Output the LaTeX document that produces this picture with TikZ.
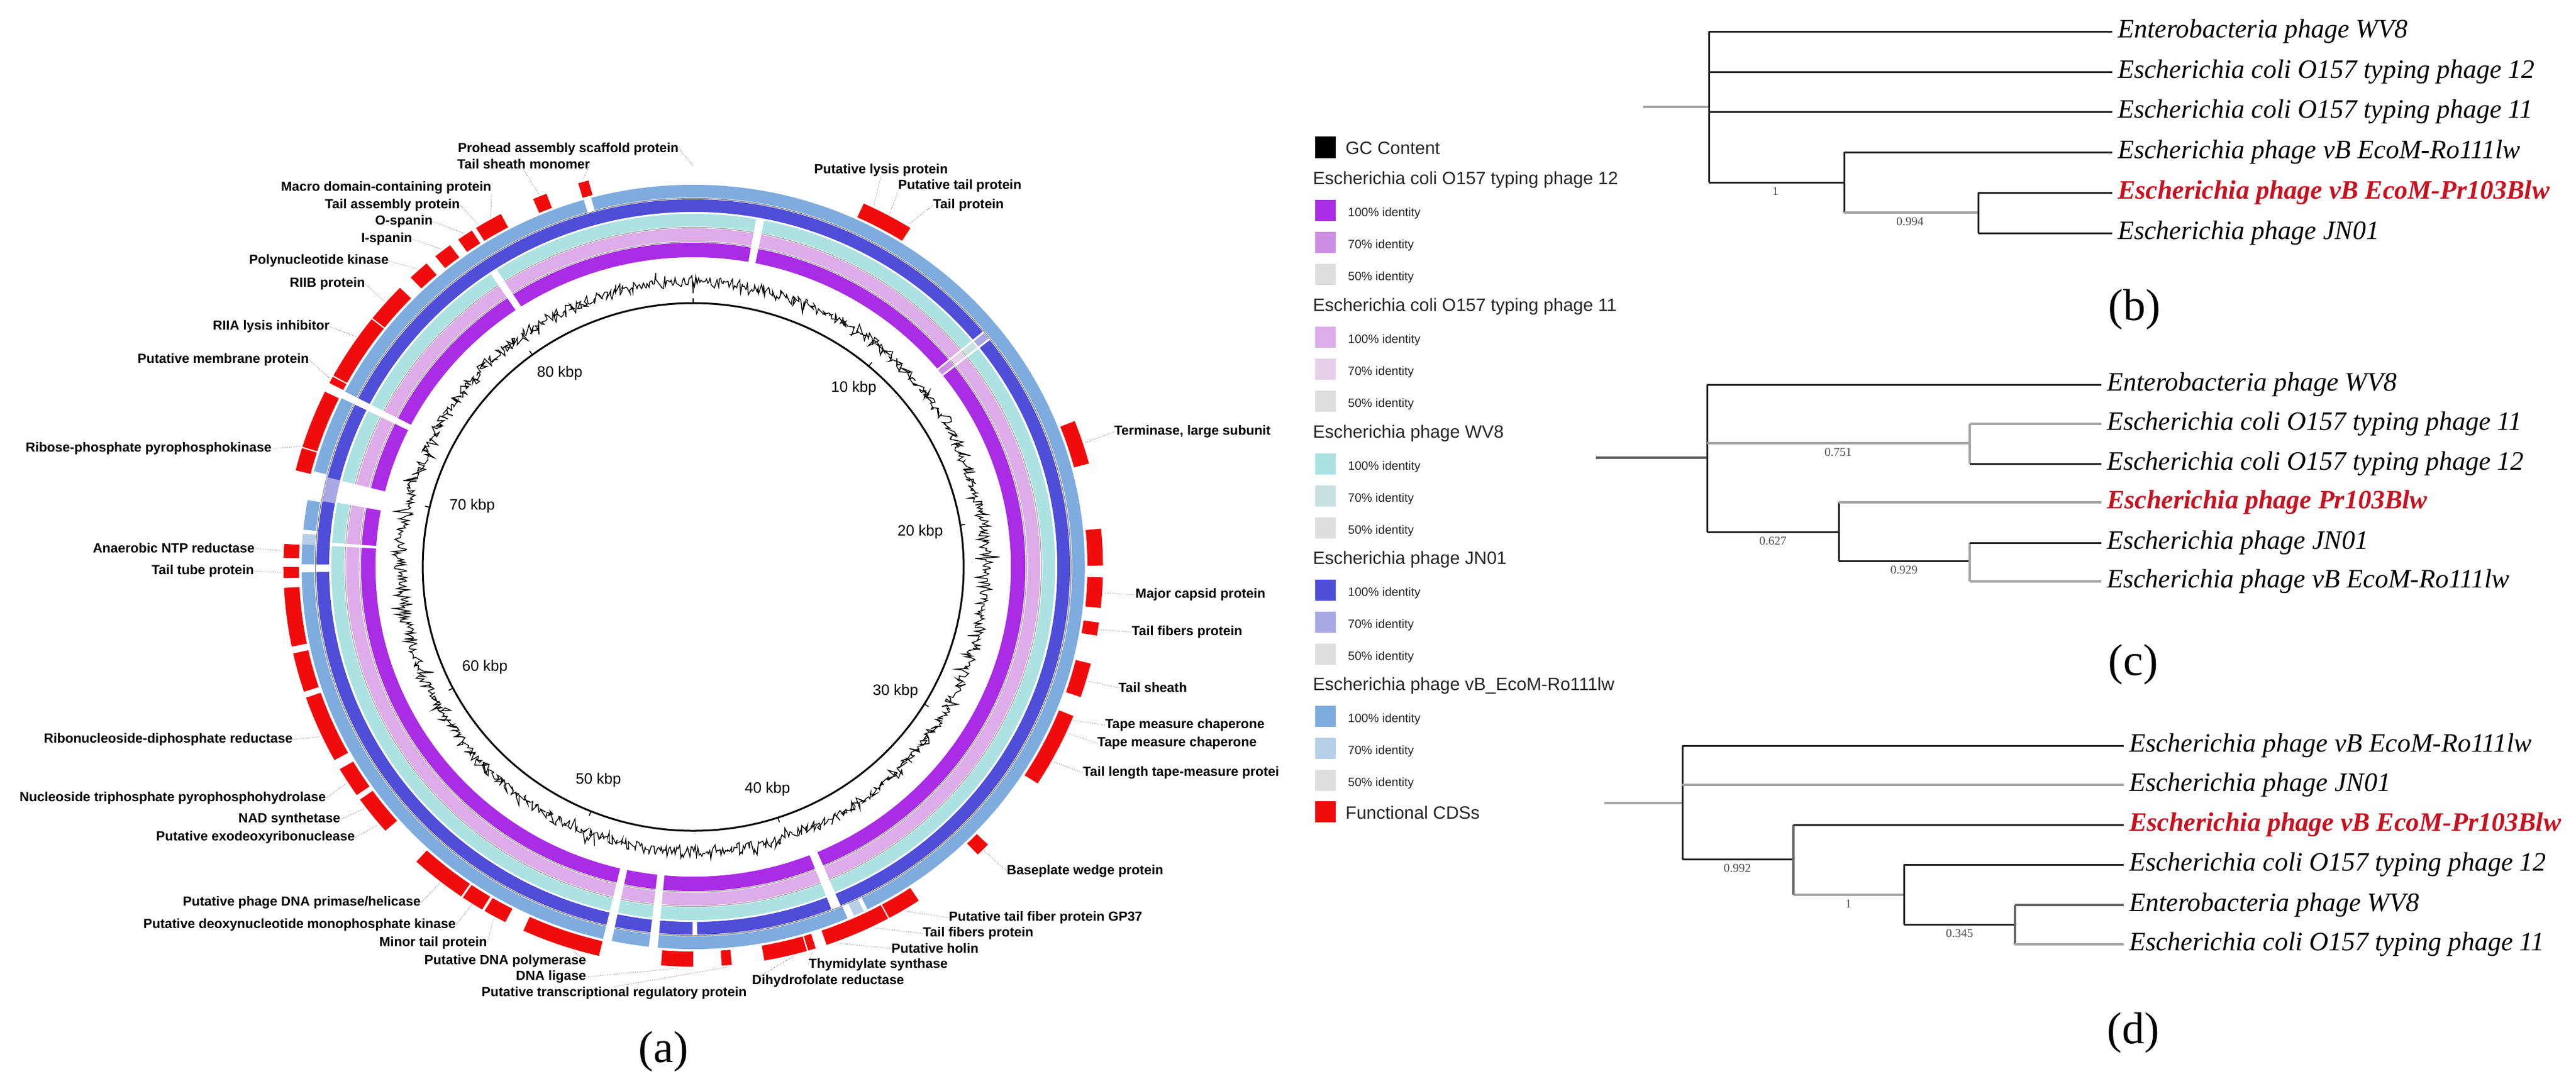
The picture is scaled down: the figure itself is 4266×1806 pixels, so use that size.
\documentclass[tikz,border=0pt]{standalone}
\usepackage{fontspec}
\setmainfont{Liberation Serif}
\newfontfamily\arialf{Liberation Sans}

\definecolor{pur1}{RGB}{170,44,228}
\definecolor{pur7}{RGB}{206,142,230}
\definecolor{pnk1}{RGB}{222,172,232}
\definecolor{pnk7}{RGB}{230,208,234}
\definecolor{tea1}{RGB}{172,226,226}
\definecolor{tea7}{RGB}{202,225,228}
\definecolor{blu1}{RGB}{78,78,216}
\definecolor{blu7}{RGB}{168,168,228}
\definecolor{lbl1}{RGB}{126,172,222}
\definecolor{lbl7}{RGB}{184,207,232}
\definecolor{id50}{RGB}{222,222,222}
\definecolor{cds}{RGB}{240,12,12}
\definecolor{treered}{RGB}{200,18,32}
\definecolor{treegray}{RGB}{165,165,165}
\definecolor{treedark}{RGB}{35,35,35}

\tikzset{
  maplbl/.style={font=\arialf\bfseries\fontsize{11}{13}\selectfont, inner sep=0pt, text=black},
  kbplbl/.style={font=\arialf\fontsize{12.5}{14}\selectfont, inner sep=0pt},
  lead/.style={draw=black!55, line width=0.45pt, densely dotted},
  lgh/.style={font=\arialf\fontsize{14.8}{17}\selectfont, inner sep=0pt, anchor=west, text=black!85},
  lgi/.style={font=\arialf\fontsize{10}{12}\selectfont, inner sep=0pt, anchor=west, text=black!85},
  leaf/.style={font=\itshape\fontsize{22}{26}\selectfont, inner ysep=0pt, inner xsep=4.5pt, anchor=west},
  leafred/.style={font=\bfseries\itshape\fontsize{22}{26}\selectfont, inner ysep=0pt, inner xsep=4.5pt, anchor=west, text=treered},
  bsv/.style={font=\fontsize{10}{12}\selectfont, inner sep=0pt, text=black!70},
  panel/.style={font=\fontsize{37}{40}\selectfont, inner sep=0pt},
  tdark/.style={draw=treedark, line width=1.5pt},
  tgray/.style={draw=treegray, line width=2pt},
}

\newcommand{\annseg}[5]{\fill[#5] plot[domain=#1:#2, samples=16] ({\x-90}:{#4}) -- plot[domain=#2:#1, samples=16] ({\x-90}:{#3}) -- cycle;}
\newcommand{\tgt}[2]{\coordinate (#1) at ({#2-90}:665);}

\begin{document}
\begin{tikzpicture}[x=0.5pt, y=-0.5pt]
\useasboundingbox (0,0) rectangle (4266,1806);
\fill[white] (0,0) rectangle (4266,1806);

% ================= circular map =================
\begin{scope}[shift={(1148,939)}, xscale=1.025]
  % rings
  \draw[lbl1, line width=10.5pt] (0,0) circle[radius=622.5];
  \draw[blu1, line width=10.5pt] (0,0) circle[radius=598.5];
  \draw[tea1, line width=10.5pt] (0,0) circle[radius=574.5];
  \draw[pnk1, line width=10.5pt] (0,0) circle[radius=550.5];
  \draw[pur1, line width=12pt] (0,0) circle[radius=525];
  \draw[black!55, line width=0.6pt] (0,0) circle[radius=610.5];
  \draw[black!40, line width=0.6pt] (0,0) circle[radius=562.5];
  \draw[black!40, line width=0.6pt] (0,0) circle[radius=538.5];
  % lighter (lower identity) patches
  \annseg{273.4}{275}{612}{633}{lbl7}
  \annseg{154.2}{155.8}{612}{633}{lbl7}
  \annseg{280.3}{284.1}{588}{609}{blu7}
  \annseg{50.5}{51.6}{588}{609}{blu7}
  \annseg{50.5}{51.6}{564}{585}{tea7}
  \annseg{50.5}{51.6}{540}{561}{pnk7}
  \annseg{50.5}{51.6}{513}{537}{pur7}
  % gaps through all rings
  \annseg{296.2}{297.3}{510}{636}{white}
  \annseg{192}{193.3}{510}{636}{white}
  \annseg{185.2}{186.5}{510}{636}{white}
  % gaps light blue
  \annseg{343.8}{344.9}{611}{636}{white}
  \annseg{280.1}{284.5}{611}{636}{white}
  \annseg{275}{275.6}{611}{636}{white}
  \annseg{269.2}{270.4}{611}{636}{white}
  \annseg{155.8}{156.8}{611}{636}{white}
  \annseg{153.6}{154.2}{611}{636}{white}
  % gaps blue
  \annseg{269.2}{270.4}{587}{610}{white}
  \annseg{179.4}{180.1}{587}{610}{white}
  \annseg{157}{158.5}{587}{610}{white}
  \annseg{50.2}{50.5}{587}{610}{white}
  \annseg{51.6}{51.9}{587}{610}{white}
  % gaps teal / pink / purple
  \annseg{326}{327.2}{510}{586}{white}
  \annseg{10}{11.3}{510}{586}{white}
  \annseg{280.5}{284.1}{510}{586}{white}
  \annseg{273.4}{273.9}{510}{586}{white}
  \annseg{157}{158.5}{510}{586}{white}
  \annseg{50.2}{50.5}{510}{586}{white}
  \annseg{51.6}{51.9}{510}{586}{white}
  % functional CDSs
  \foreach \a/\b in {343.7/345.2, 337/339, 328/332, 325/327.3, 321/323.6, 316.4/319.4,
     308.5/314.3, 298.6/308.3, 297.4/298.4, 287.5/296, 284/287.3, 271.3/273.3, 268.4/270,
     258.5/267, 251.8/257.5, 241.1/250.9, 235.2/239.6, 228.7/234.4, 214.5/222.5, 211/214.2,
     207.3/210.6, 193.3/204.5, 180/184.5, 174.6/176, 163.9/170, 162.6/163.7, 151.6/161,
     146.6/151.4, 134/136, 111.9/122.8, 104/109, 98/99.9, 91.5/95.9, 84.5/89.8, 68.6/75, 24.6/32}
     {\annseg{\a}{\b}{637}{662}{cds}}
  % GC content
  \pgfmathsetseed{4242}
  \draw[black, line width=0.7pt] plot[domain=0:360, samples=1400] ({\x-90}:{472+9*(2*rnd-1)+18*(2*rnd-1)*(2*rnd-1)*(2*rnd-1)}) -- cycle;
  % backbone
  \draw[black, line width=1.5pt] (0,0) circle[radius=437];
  \foreach \k in {0,...,8} \draw[black, line width=0.8pt] ({\k*40.44-90}:437) -- ({\k*40.44-90}:445);
  % leader targets
  \tgt{t-pro}{0}
  \tgt{t-tsm}{344.4}
  \tgt{t-tsm2}{338}
  \tgt{t-mac}{330.5}
  \tgt{t-tas}{328.5}
  \tgt{t-osp}{326.2}
  \tgt{t-isp}{322.3}
  \tgt{t-pnk}{317.9}
  \tgt{t-riib}{311.4}
  \tgt{t-riia}{305}
  \tgt{t-mem}{298}
  \tgt{t-rib}{287.5}
  \tgt{t-ana}{272.3}
  \tgt{t-ttp}{269.2}
  \tgt{t-rnr}{245}
  \tgt{t-ntp}{237.4}
  \tgt{t-nad}{233}
  \tgt{t-exo}{230}
  \tgt{t-pri}{218}
  \tgt{t-dnk}{212.6}
  \tgt{t-mtp}{209}
  \tgt{t-pol}{197}
  \tgt{t-lig}{182}
  \tgt{t-trr}{175.3}
  \tgt{t-lys}{26}
  \tgt{t-ptp}{28.5}
  \tgt{t-tlp}{31.5}
  \tgt{t-ter}{72}
  \tgt{t-mcp}{93.7}
  \tgt{t-tfp}{99}
  \tgt{t-tsh}{106.5}
  \tgt{t-tmc1}{112.5}
  \tgt{t-tmc2}{114.5}
  \tgt{t-tlt}{119}
  \tgt{t-bwp}{135}
  \tgt{t-gp37}{149}
  \tgt{t-tfp2}{154}
  \tgt{t-hol}{159.5}
  \tgt{t-tys}{163.2}
  \tgt{t-dhf}{166}
\end{scope}

% kbp labels
\node[kbplbl] (k10) at (1414,643) {10 kbp};
\node[kbplbl] (k20) at (1524,881) {20 kbp};
\node[kbplbl] (k30) at (1483,1145) {30 kbp};
\node[kbplbl] (k40) at (1271,1307) {40 kbp};
\node[kbplbl] (k50) at (991,1292) {50 kbp};
\node[kbplbl] (k60) at (803,1105) {60 kbp};
\node[kbplbl] (k70) at (782,838) {70 kbp};
\node[kbplbl] (k80) at (927,618) {80 kbp};

% labels, left side (right aligned)
\node[maplbl, anchor=west] (pro) at (758,247) {Prohead assembly scaffold protein};
\node[maplbl, anchor=west] (tsm) at (757,272) {Tail sheath monomer};
\node[maplbl, anchor=east] (mac) at (814,311) {Macro domain-containing protein};
\node[maplbl, anchor=east] (tas) at (762,340) {Tail assembly protein};
\node[maplbl, anchor=east] (osp) at (717,367) {O-spanin};
\node[maplbl, anchor=east] (isp) at (683,396) {I-spanin};
\node[maplbl, anchor=east] (pnk) at (644,432) {Polynucleotide kinase};
\node[maplbl, anchor=east] (riib) at (605,470) {RIIB protein};
\node[maplbl, anchor=east] (riia) at (546,541) {RIIA lysis inhibitor};
\node[maplbl, anchor=east] (mem) at (512,596) {Putative membrane protein};
\node[maplbl, anchor=east] (rib) at (450,743) {Ribose-phosphate pyrophosphokinase};
\node[maplbl, anchor=east] (ana) at (422,908) {Anaerobic NTP reductase};
\node[maplbl, anchor=east] (ttp) at (421,946) {Tail tube protein};
\node[maplbl, anchor=east] (rnr) at (485,1225) {Ribonucleoside-diphosphate reductase};
\node[maplbl, anchor=east] (ntp) at (540,1322) {Nucleoside triphosphate pyrophosphohydrolase};
\node[maplbl, anchor=east] (nad) at (564,1357) {NAD synthetase};
\node[maplbl, anchor=east] (exo) at (588,1387) {Putative exodeoxyribonuclease};
\node[maplbl, anchor=east] (pri) at (697,1495) {Putative phage DNA primase/helicase};
\node[maplbl, anchor=east] (dnk) at (755,1532) {Putative deoxynucleotide monophosphate kinase};
\node[maplbl, anchor=east] (mtp) at (807,1562) {Minor tail protein};
\node[maplbl, anchor=east] (pol) at (971,1592) {Putative DNA polymerase};
\node[maplbl, anchor=east] (lig) at (971,1618) {DNA ligase};
\node[maplbl, anchor=east] (trr) at (1237,1645) {Putative transcriptional regulatory protein};
% labels, right side
\node[maplbl, anchor=west] (lys) at (1348,282) {Putative lysis protein};
\node[maplbl, anchor=west] (ptp) at (1487,308) {Putative tail protein};
\node[maplbl, anchor=west] (tlp) at (1545,340) {Tail protein};
\node[maplbl, anchor=west] (ter) at (1845,715) {Terminase, large subunit};
\node[maplbl, anchor=west] (mcp) at (1880,985) {Major capsid protein};
\node[maplbl, anchor=west] (tfp) at (1874,1047) {Tail fibers protein};
\node[maplbl, anchor=west] (tsh) at (1852,1139) {Tail sheath};
\node[maplbl, anchor=west] (tmc1) at (1830,1201) {Tape measure chaperone};
\node[maplbl, anchor=west] (tmc2) at (1817,1231) {Tape measure chaperone};
\node[maplbl, anchor=west] (tlt) at (1793,1280) {Tail length tape-measure protei};
\node[maplbl, anchor=west] (bwp) at (1667,1443) {Baseplate wedge protein};
\node[maplbl, anchor=west] (gp37) at (1571,1520) {Putative tail fiber protein GP37};
\node[maplbl, anchor=west] (tfp2) at (1528,1546) {Tail fibers protein};
\node[maplbl, anchor=west] (hol) at (1476,1571) {Putative holin};
\node[maplbl, anchor=west] (tys) at (1339,1598) {Thymidylate synthase};
\node[maplbl, anchor=west] (dhf) at (1245,1625) {Dihydrofolate reductase};

% leader lines
\draw[lead] (pro.east) -- (t-pro);
\draw[lead] (tsm.east) -- (t-tsm);
\draw[lead] (tsm.south) -- (t-tsm2);
\draw[lead] (mac.south east) -- (t-mac);
\draw[lead] (tas.east) -- (t-tas);
\draw[lead] (osp.east) -- (t-osp);
\draw[lead] (isp.east) -- (t-isp);
\draw[lead] (pnk.east) -- (t-pnk);
\draw[lead] (riib.east) -- (t-riib);
\draw[lead] (riia.east) -- (t-riia);
\draw[lead] (mem.east) -- (t-mem);
\draw[lead] (rib.east) -- (t-rib);
\draw[lead] (ana.east) -- (t-ana);
\draw[lead] (ttp.east) -- (t-ttp);
\draw[lead] (rnr.east) -- (t-rnr);
\draw[lead] (ntp.east) -- (t-ntp);
\draw[lead] (nad.east) -- (t-nad);
\draw[lead] (exo.east) -- (t-exo);
\draw[lead] (pri.east) -- (t-pri);
\draw[lead] (dnk.east) -- (t-dnk);
\draw[lead] (mtp.east) -- (t-mtp);
\draw[lead] (pol.east) -- (t-pol);
\draw[lead] (lig.east) -- (t-lig);
\draw[lead] (trr.north) -- (t-trr);
\draw[lead] (lys.south) -- (t-lys);
\draw[lead] (ptp.south west) -- (t-ptp);
\draw[lead] (tlp.west) -- (t-tlp);
\draw[lead] (ter.west) -- (t-ter);
\draw[lead] (mcp.west) -- (t-mcp);
\draw[lead] (tfp.west) -- (t-tfp);
\draw[lead] (tsh.west) -- (t-tsh);
\draw[lead] (tmc1.west) -- (t-tmc1);
\draw[lead] (tmc2.west) -- (t-tmc2);
\draw[lead] (tlt.west) -- (t-tlt);
\draw[lead] (bwp.west) -- (t-bwp);
\draw[lead] (gp37.west) -- (t-gp37);
\draw[lead] (tfp2.west) -- (t-tfp2);
\draw[lead] (hol.west) -- (t-hol);
\draw[lead] (tys.west) -- (t-tys);
\draw[lead] (dhf.west) -- (t-dhf);

\node[panel] (pa) at (1099,1742) {(a)};

% ================= legend =================
\fill[black] (2178,226) rectangle (2212,262);
\node[lgh] (lgc) at (2228,245) {GC Content};
\foreach \h/\txt/\ca/\cb [count=\i] in {
   298/{Escherichia coli O157 typing phage 12}/pur1/pur7,
   508/{Escherichia coli O157 typing phage 11}/pnk1/pnk7,
   718/{Escherichia phage WV8}/tea1/tea7,
   927/{Escherichia phage JN01}/blu1/blu7,
   1136/{Escherichia phage vB\_EcoM-Ro111lw}/lbl1/lbl7}{
  \node[lgh, anchor=west] (lgh\i) at (2174,\h) {\txt};
  \fill[\ca] (2178,\h+33) rectangle (2212,\h+68);
  \fill[\cb] (2178,\h+86) rectangle (2212,\h+121);
  \fill[id50] (2178,\h+139) rectangle (2212,\h+174);
  \node[lgi] (lga\i) at (2232,\h+55) {100\% identity};
  \node[lgi] (lgb\i) at (2232,\h+108) {70\% identity};
  \node[lgi] (lgd\i) at (2232,\h+161) {50\% identity};
}
\fill[cds] (2178,1327) rectangle (2212,1362);
\node[lgh] (lcds) at (2228,1346) {Functional CDSs};

% ================= tree (b) =================
\coordinate (bR) at (2721,177);
\coordinate (bA) at (2830,177);
\coordinate (bB) at (3054,302);
\coordinate (bC) at (3276,352);
\node[leaf] (b1) at (3498,52) {Enterobacteria phage WV8};
\node[leaf] (b2) at (3498,119) {Escherichia coli O157 typing phage 12};
\node[leaf] (b3) at (3498,185) {Escherichia coli O157 typing phage 11};
\node[leaf] (b4) at (3498,252) {Escherichia phage vB EcoM-Ro111lw};
\node[leafred] (b5) at (3498,319) {Escherichia phage vB EcoM-Pr103Blw};
\node[leaf] (b6) at (3498,386) {Escherichia phage JN01};
\draw[tgray] (bR) -- (bA);
\draw[tdark] (bA |- b1.west) -- (bA |- bB);
\draw[tdark] (bA |- b1.west) -- (b1.west);
\draw[tdark] (bA |- b2.west) -- (b2.west);
\draw[tdark] (bA |- b3.west) -- (b3.west);
\draw[tdark] (bA |- bB) -- (bB);
\draw[tdark] (bB |- b4.west) -- (bB |- bC);
\draw[tdark] (bB |- b4.west) -- (b4.west);
\draw[tgray] (bB |- bC) -- (bC);
\draw[tdark] (bC |- b5.west) -- (bC |- b6.west);
\draw[tdark] (bC |- b5.west) -- (b5.west);
\draw[tdark] (bC |- b6.west) -- (b6.west);
\node[bsv] (bs1) at (2940,317) {1};
\node[bsv] (bs2) at (3163,367) {0.994};
\node[panel] (pb) at (3535,513) {(b)};

% ================= tree (c) =================
\coordinate (cR) at (2643,758);
\coordinate (cA) at (2827,758);
\coordinate (cB) at (3262,734);
\coordinate (cE) at (3045,881);
\coordinate (cF) at (3262,929);
\node[leaf] (c1) at (3480,637) {Enterobacteria phage WV8};
\node[leaf] (c2) at (3480,702) {Escherichia coli O157 typing phage 11};
\node[leaf] (c3) at (3480,768) {Escherichia coli O157 typing phage 12};
\node[leafred] (c4) at (3480,832) {Escherichia phage Pr103Blw};
\node[leaf] (c5) at (3480,899) {Escherichia phage JN01};
\node[leaf] (c6) at (3480,963) {Escherichia phage vB EcoM-Ro111lw};
\draw[draw=black!65, line width=1.8pt] (cR) -- (cA);
\draw[tdark] (cA |- c1.west) -- (cA |- cE);
\draw[tdark] (cA |- c1.west) -- (c1.west);
\draw[tgray] (cA |- cB) -- (cB);
\draw[tgray] (cB |- c2.west) -- (cB |- c3.west);
\draw[tgray] (cB |- c2.west) -- (c2.west);
\draw[tdark] (cB |- c3.west) -- (c3.west);
\draw[tdark] (cA |- cE) -- (cE);
\draw[tdark] (cE |- c4.west) -- (cE |- cF);
\draw[tgray] (cE |- c4.west) -- (c4.west);
\draw[tdark] (cE |- cF) -- (cF);
\draw[tgray] (cF |- c5.west) -- (cF |- c6.west);
\draw[tdark] (cF |- c5.west) -- (c5.west);
\draw[tgray] (cF |- c6.west) -- (c6.west);
\node[bsv] (cs1) at (3044,749) {0.751};
\node[bsv] (cs2) at (2936,896) {0.627};
\node[bsv] (cs3) at (3153,944) {0.929};
\node[panel] (pc) at (3533,1101) {(c)};

% ================= tree (d) =================
\coordinate (dR) at (2657,1330);
\coordinate (dA) at (2786,1330);
\coordinate (dB) at (2970,1423);
\coordinate (dC) at (3153,1482);
\coordinate (dD) at (3337,1531);
\node[leaf] (d1) at (3517,1235) {Escherichia phage vB EcoM-Ro111lw};
\node[leaf] (d2) at (3517,1300) {Escherichia phage JN01};
\node[leafred] (d3) at (3517,1366) {Escherichia phage vB EcoM-Pr103Blw};
\node[leaf] (d4) at (3517,1432) {Escherichia coli O157 typing phage 12};
\node[leaf] (d5) at (3517,1499) {Enterobacteria phage WV8};
\node[leaf] (d6) at (3517,1564) {Escherichia coli O157 typing phage 11};
\draw[tgray] (dR) -- (dA);
\draw[tdark] (dA |- d1.west) -- (dA |- dB);
\draw[tdark] (dA |- d1.west) -- (d1.west);
\draw[tgray, line width=2.4pt] (dA |- d2.west) -- (d2.west);
\draw[tdark] (dA |- dB) -- (dB);
\draw[draw=black!60, line width=1.6pt] (dB |- d3.west) -- (dB |- dC);
\draw[tdark] (dB |- d3.west) -- (d3.west);
\draw[tgray] (dB |- dC) -- (dC);
\draw[tdark] (dC |- d4.west) -- (dC |- dD);
\draw[tdark] (dC |- d4.west) -- (d4.west);
\draw[tdark] (dC |- dD) -- (dD);
\draw[draw=black!60, line width=1.6pt] (dD |- d5.west) -- (dD |- d6.west);
\draw[draw=black!60, line width=1.6pt] (dD |- d5.west) -- (d5.west);
\draw[tgray] (dD |- d6.west) -- (d6.west);
\node[bsv] (ds1) at (2877,1438) {0.992};
\node[bsv] (ds2) at (3061,1497) {1};
\node[bsv] (ds3) at (3245,1546) {0.345};
\node[panel] (pd) at (3533,1711) {(d)};
\end{tikzpicture}
\end{document}
